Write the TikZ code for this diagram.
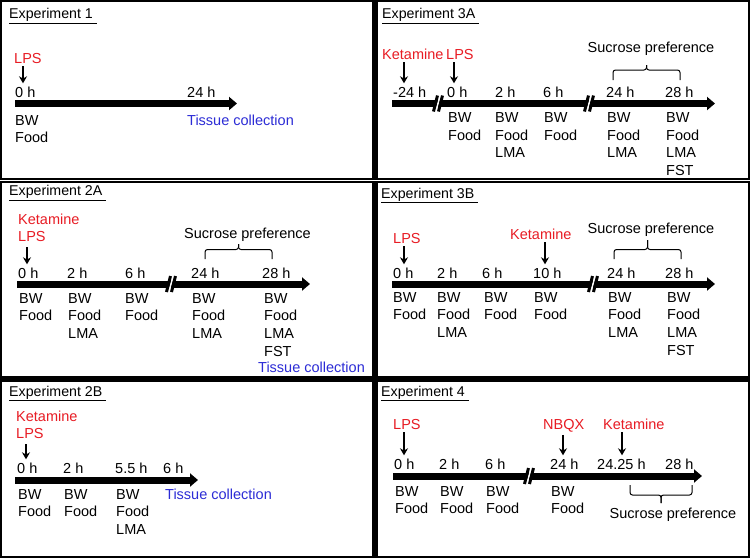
\documentclass[tikz,border=0pt]{standalone}
\usepackage{fontspec}
\setmainfont{Liberation Sans}
\usepackage{tikz}
\usetikzlibrary{arrows.meta}

\definecolor{drugred}{RGB}{232,28,36}
\definecolor{tissueblue}{RGB}{44,44,214}

% stacked lines, baseline on the first line
\newcommand{\stk}[1]{\begin{tabular}[t]{@{}l@{}}#1\end{tabular}}

\tikzset{
  panel/.style={draw, line width=2.2pt},
  ttl/.style={anchor=base west, inner sep=0pt, font=\fontsize{14.2}{17}\selectfont},
  lbl/.style={anchor=base west, inner sep=0pt, font=\fontsize{14.5}{17.7}\selectfont},
  drug/.style={lbl, text=drugred},
  tissue/.style={lbl, text=tissueblue},
  bar/.style={line width=7pt, -{Triangle[length=8pt, width=13pt]}},
  darr/.style={line width=1.6pt, -{Stealth[length=7pt, width=8pt]}, shorten <=3pt, shorten >=3pt},
  brk/.style={line width=1pt, rounded corners=2.5pt},
  tlbreak/.pic={
    \draw[white, line width=1.8pt] (0,7) -- (4,-7);
    \draw[line width=3pt] (-2.5,8) -- (1.5,-8);
    \draw[line width=3pt] (2.5,8) -- (6.5,-8);
  }
}

\begin{document}
\begin{tikzpicture}[x=1pt, y=-1pt]
\useasboundingbox[fill=white] (0,0) rectangle (750,558);

% panels
\draw[panel] (1.1,1.1) rectangle (373.5,179);
\draw[panel] (376.5,1.1) rectangle (748.9,179);
\draw[panel] (1.1,182) rectangle (373.5,377.5);
\draw[panel] (376.5,182) rectangle (748.9,377.5);
\draw[panel] (1.1,380.5) rectangle (373.5,556.9);
\draw[panel] (376.5,380.5) rectangle (748.9,556.9);

% Experiment 1
\node[ttl] (e1) at (9,18.5) {\underline{Experiment 1~}};
\node[drug] (lps1) at (14,63) {LPS};
\node[lbl] (t1a) at (15,97) {0 h};
\node[lbl] (t1b) at (187,97) {24 h};
\draw[bar] (15,103.5) -- (237,103.5);
\node[lbl] (m1a) at (15,125) {\stk{BW\\Food}};
\node[tissue] (m1b) at (187,125) {Tissue collection};
\coordinate (a1) at (23,0);
\draw[darr] (lps1.south -| a1) -- (t1a.north -| a1);

% Experiment 3A
\node[ttl] (e3a) at (382,18.5) {\underline{Experiment 3A~}};
\node[drug] (ket3a) at (382,59) {Ketamine};
\node[drug] (lps3a) at (446,59) {LPS};
\node[lbl] (t3a) at (393,97) {-24 h};
\node[lbl] (t3b) at (447,97) {0 h};
\node[lbl] (t3c) at (495,97) {2 h};
\node[lbl] (t3d) at (543,97) {6 h};
\node[lbl] (t3e) at (606,97) {24 h};
\node[lbl] (t3f) at (665,97) {28 h};
\draw[bar] (392,103.5) -- (715,103.5);
\pic at (436,103.5) {tlbreak};
\pic at (587,103.5) {tlbreak};
\node[lbl] (m3b) at (448,122.5) {\stk{BW\\Food}};
\node[lbl] (m3c) at (495,122.5) {\stk{BW\\Food\\LMA}};
\node[lbl] (m3d) at (544,122.5) {\stk{BW\\Food}};
\node[lbl] (m3e) at (607,122.5) {\stk{BW\\Food\\LMA}};
\node[lbl] (m3f) at (666,122.5) {\stk{BW\\Food\\LMA\\FST}};
\coordinate (a3a) at (404,0);
\coordinate (a3b) at (454,0);
\draw[darr] (ket3a.south -| a3a) -- (t3a.north -| a3a);
\draw[darr] (lps3a.south -| a3b) -- (t3b.north -| a3b);
\node[lbl, anchor=base] (sp3a) at (651,52) {Sucrose preference};
\draw[brk] (613,80) -- (613,70) -- (646.5,70) -- (646.5,65);
\draw[brk] (646.5,65) -- (646.5,70) -- (680,70) -- (680,80);

% Experiment 2A
\node[ttl] (e2a) at (9,195.5) {\underline{Experiment 2A~}};
\node[drug] (drg2a) at (18,224) {\stk{Ketamine\\LPS}};
\node[lbl] (t2a) at (18,278) {0 h};
\node[lbl] (t2b) at (67,278) {2 h};
\node[lbl] (t2c) at (125,278) {6 h};
\node[lbl] (t2d) at (191,278) {24 h};
\node[lbl] (t2e) at (262,278) {28 h};
\draw[bar] (17,284) -- (310,284);
\pic at (169,284) {tlbreak};
\node[lbl] (m2a) at (19,303) {\stk{BW\\Food}};
\node[lbl] (m2b) at (68,303) {\stk{BW\\Food\\LMA}};
\node[lbl] (m2c) at (125,303) {\stk{BW\\Food}};
\node[lbl] (m2d) at (192,303) {\stk{BW\\Food\\LMA}};
\node[lbl] (m2e) at (264,303) {\stk{BW\\Food\\LMA\\FST}};
\node[tissue] (tc2a) at (258,372.5) {Tissue collection};
\coordinate (a2a) at (27,0);
\draw[darr, shorten <=0pt] (drg2a.south -| a2a) -- (t2a.north -| a2a);
\node[lbl, anchor=base] (sp2a) at (247.5,238) {Sucrose preference};
\draw[brk] (205,259) -- (205,249.5) -- (238.5,249.5) -- (238.5,244);
\draw[brk] (238.5,244) -- (238.5,249.5) -- (272,249.5) -- (272,259);

% Experiment 3B
\node[ttl] (e3b) at (381,198) {\underline{Experiment 3B~}};
\node[drug] (lps3b) at (393,243) {LPS};
\node[drug] (ket3b) at (510,239) {Ketamine};
\node[lbl] (t4a) at (393,278) {0 h};
\node[lbl] (t4b) at (437,278) {2 h};
\node[lbl] (t4c) at (482,278) {6 h};
\node[lbl] (t4d) at (533,278) {10 h};
\node[lbl] (t4e) at (607,278) {24 h};
\node[lbl] (t4f) at (665,278) {28 h};
\draw[bar] (392,284) -- (715,284);
\pic at (591,284) {tlbreak};
\node[lbl] (m4a) at (393,302) {\stk{BW\\Food}};
\node[lbl] (m4b) at (437,302) {\stk{BW\\Food\\LMA}};
\node[lbl] (m4c) at (484,302) {\stk{BW\\Food}};
\node[lbl] (m4d) at (534,302) {\stk{BW\\Food}};
\node[lbl] (m4e) at (608,302) {\stk{BW\\Food\\LMA}};
\node[lbl] (m4f) at (667,302) {\stk{BW\\Food\\LMA\\FST}};
\coordinate (a4a) at (404,0);
\coordinate (a4b) at (545,0);
\draw[darr] (lps3b.south -| a4a) -- (t4a.north -| a4a);
\draw[darr] (ket3b.south -| a4b) -- (t4d.north -| a4b);
\node[lbl, anchor=base] (sp3b) at (651,233) {Sucrose preference};
\draw[brk] (614,259) -- (614,249.5) -- (647.5,249.5) -- (647.5,240);
\draw[brk] (647.5,240) -- (647.5,249.5) -- (681,249.5) -- (681,259);

% Experiment 2B
\node[ttl] (e2b) at (9,396) {\underline{Experiment 2B~}};
\node[drug] (drg2b) at (16,421) {\stk{Ketamine\\LPS}};
\node[lbl] (t5a) at (17,473) {0 h};
\node[lbl] (t5b) at (63,473) {2 h};
\node[lbl] (t5c) at (115,473) {5.5 h};
\node[lbl] (t5d) at (163,473) {6 h};
\draw[bar] (15,480) -- (198,480);
\node[lbl] (m5a) at (18,499) {\stk{BW\\Food}};
\node[lbl] (m5b) at (64,499) {\stk{BW\\Food}};
\node[lbl] (m5c) at (116,499) {\stk{BW\\Food\\LMA}};
\node[tissue] (tc2b) at (165,499) {Tissue collection};
\coordinate (a5a) at (26,0);
\draw[darr, shorten <=0pt] (drg2b.south -| a5a) -- (t5a.north -| a5a);

% Experiment 4
\node[ttl] (e4) at (381,396) {\underline{Experiment 4~}};
\node[drug] (lps4) at (393,429) {LPS};
\node[drug] (nbqx4) at (543,429) {NBQX};
\node[drug] (ket4) at (603,429) {Ketamine};
\node[lbl] (t6a) at (394,469) {0 h};
\node[lbl] (t6b) at (439,469) {2 h};
\node[lbl] (t6c) at (485,469) {6 h};
\node[lbl] (t6d) at (550,469) {24 h};
\node[lbl] (t6e) at (597,469) {24.25 h};
\node[lbl] (t6f) at (665,469) {28 h};
\draw[bar] (393,476) -- (702,476);
\pic at (527,476) {tlbreak};
\node[lbl] (m6a) at (395,496) {\stk{BW\\Food}};
\node[lbl] (m6b) at (440,496) {\stk{BW\\Food}};
\node[lbl] (m6c) at (486,496) {\stk{BW\\Food}};
\node[lbl] (m6d) at (551,496) {\stk{BW\\Food}};
\coordinate (a6a) at (404,0);
\coordinate (a6b) at (563,0);
\coordinate (a6c) at (622,0);
\draw[darr] (lps4.south -| a6a) -- (t6a.north -| a6a);
\draw[darr] (nbqx4.south -| a6b) -- (t6d.north -| a6b);
\draw[darr] (ket4.south -| a6c) -- (t6e.north -| a6c);
\draw[brk] (630,485) -- (630,495) -- (661,495) -- (661,503);
\draw[brk] (661,503) -- (661,495) -- (692,495) -- (692,485);
\node[lbl, anchor=base] (sp4) at (673,518) {Sucrose preference};
\end{tikzpicture}
\end{document}
